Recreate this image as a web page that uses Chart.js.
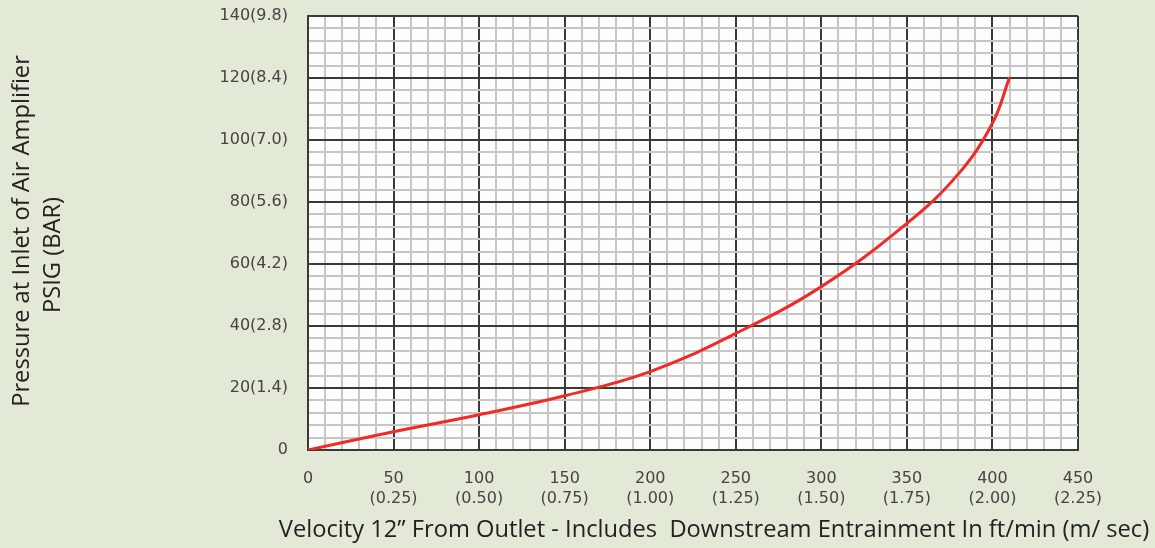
<!DOCTYPE html>
<html>
<head>
<meta charset="utf-8">
<script src="https://cdn.jsdelivr.net/npm/chart.js@4"></script>
<style>
  html, body { margin: 0; padding: 0; background: #e2e9d6; }
  #wrap { width: 1155px; height: 548px; }
</style>
</head>
<body>
<div id="wrap"><canvas id="grafico" width="1155" height="548"></canvas></div>
<script>
// velocidade (ft/min) x pressão (PSIG)
const velocidade = [0, 50, 100, 150, 200, 250, 300, 350, 380, 400, 410];
const pressao    = [0, 5.9, 11.4, 17.5, 25.3, 37.6, 52.7, 73.1, 89, 105.4, 120.2];

// rótulos dos eixos
const xMarcas = [0, 50, 100, 150, 200, 250, 300, 350, 400, 450];
const xMetros = ['', '(0.25)', '(0.50)', '(0.75)', '(1.00)', '(1.25)', '(1.50)', '(1.75)', '(2.00)', '(2.25)'];
const yMarcas = [0, 20, 40, 60, 80, 100, 120, 140];
const yRotulos = ['0', '20(1.4)', '40(2.8)', '60(4.2)', '80(5.6)', '100(7.0)', '120(8.4)', '140(9.8)'];

const tituloX = 'Velocity 12\u201d From Outlet - Includes  Downstream Entrainment In ft/min (m/ sec)';
const tituloY = ['Pressure at Inlet of Air Amplifier', 'PSIG (BAR)'];

const corGradeFina = '#c6c6c6';
const corGradeForte = '#3a3a3a';
const fonteTitulo = '23.7px "Open Sans"';

// fundo branco só na área do gráfico
const fundoArea = {
    id: 'fundoArea',
    beforeDraw(chart) {
        const { ctx, chartArea: a } = chart;
        ctx.save();
        ctx.fillStyle = '#fdfdfd';
        ctx.fillRect(a.left, a.top, a.right - a.left, a.bottom - a.top);
        ctx.restore();
    }
};

// títulos dos eixos desenhados à mão (posição fora do centro do eixo)
const titulos = {
    id: 'titulos',
    afterDraw(chart) {
        const ctx = chart.ctx;
        ctx.save();
        ctx.fillStyle = '#222';
        ctx.font = fonteTitulo;
        ctx.textAlign = 'center';
        ctx.textBaseline = 'middle';
        ctx.fillText(tituloX, 714, 530);

        ctx.save();
        ctx.translate(22, 231);
        ctx.rotate(-Math.PI / 2);
        ctx.fillText(tituloY[0], 0, 0);
        ctx.restore();
        ctx.translate(53, 255);
        ctx.rotate(-Math.PI / 2);
        ctx.fillText(tituloY[1], 0, 0);
        ctx.restore();
    }
};

function ehMarca(lista, v) {
    return lista.findIndex(m => Math.abs(m - v) < 1e-6);
}

new Chart(document.getElementById('grafico'), {
    type: 'line',
    data: {
        datasets: [{
            data: velocidade.map((v, i) => ({ x: v, y: pressao[i] })),
            borderColor: '#ee2b24',
            borderWidth: 3,
            pointRadius: 0,
            tension: 0.4,
            fill: false
        }]
    },
    options: {
        responsive: false,
        animation: false,
        layout: { padding: { top: 16, right: 77, left: 0, bottom: 0 } },
        plugins: { legend: { display: false }, tooltip: { enabled: false } },
        scales: {
            x: {
                type: 'linear',
                min: 0,
                max: 450,
                afterFit: s => { s.height = 98; },
                border: { color: corGradeForte, width: 2 },
                grid: {
                    lineWidth: 2,
                    drawTicks: false,
                    color: c => ehMarca(xMarcas, c.tick.value) >= 0 ? corGradeForte : corGradeFina
                },
                ticks: {
                    stepSize: 10,
                    autoSkip: false,
                    maxRotation: 0,
                    padding: 19,
                    color: '#444',
                    font: { family: 'DejaVu Sans', size: 16, lineHeight: 1.25 },
                    callback: v => {
                        const i = ehMarca(xMarcas, v);
                        if (i < 0) return '';
                        return xMetros[i] ? [String(xMarcas[i]), xMetros[i]] : String(xMarcas[i]);
                    }
                }
            },
            y: {
                min: 0,
                max: 140,
                // largura fixa e sem folga extra no topo
                afterFit: s => { s.width = 308; s.paddingTop = 0; },
                border: { color: corGradeForte, width: 2 },
                grid: {
                    lineWidth: 2,
                    drawTicks: false,
                    color: c => ehMarca(yMarcas, c.tick.value) >= 0 ? corGradeForte : corGradeFina
                },
                ticks: {
                    stepSize: 4,
                    autoSkip: false,
                    padding: 20,
                    color: '#444',
                    font: { family: 'DejaVu Sans', size: 16 },
                    callback: v => {
                        const i = ehMarca(yMarcas, v);
                        return i < 0 ? '' : yRotulos[i];
                    }
                }
            }
        }
    },
    plugins: [fundoArea, titulos]
});
</script>
</body>
</html>
